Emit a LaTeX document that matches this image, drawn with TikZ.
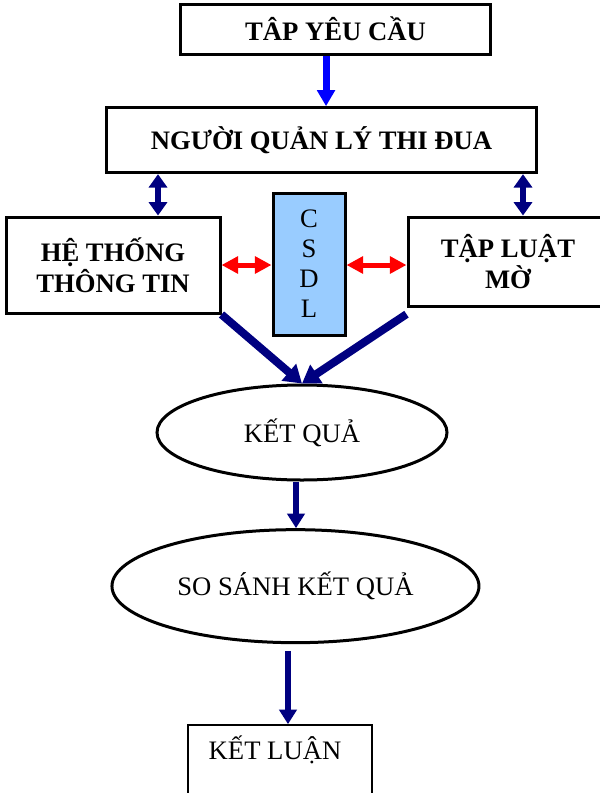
\documentclass[tikz,border=0pt]{standalone}
\usepackage{fontspec}
\setmainfont{Liberation Serif}
\usetikzlibrary{arrows.meta, positioning, shapes.geometric}

\definecolor{navy}{RGB}{0,0,128}
\definecolor{dbblue}{RGB}{153,204,255}

\begin{document}
\begin{tikzpicture}[x=0.75pt, y=-0.75pt,
	every node/.style={font=\fontsize{20}{23}\selectfont},
	bold/.style={font=\fontsize{20}{23}\selectfont\bfseries},
	box/.style={draw, rectangle, line width=2.25pt, align=center, inner sep=0pt},
	oval/.style={draw, ellipse, line width=2.25pt, inner sep=0pt},
	bluearr/.style={draw=blue, line width=5.25pt, -{Triangle[length=12pt, width=13pt]}},
	dblarr/.style={draw=navy, line width=4.5pt, {Triangle[length=10pt, width=13.5pt]}-{Triangle[length=10pt, width=13.5pt]}},
	redarr/.style={draw=red, line width=3.75pt, {Triangle[length=12.5pt, width=12.5pt]}-{Triangle[length=12.5pt, width=12.5pt]}},
	diagarr/.style={draw=navy, line width=6pt, -{Triangle[length=13pt, width=16pt]}},
	downarr/.style={draw=navy, line width=4.5pt, -{Triangle[length=11pt, width=13pt]}}]

\useasboundingbox (0,0) rectangle (600,793);

% top level
\node [box, bold, minimum width=233pt, minimum height=37.5pt] (req) at (335.5,29) {TÂP YÊU CẦU};
\node [box, bold, minimum width=323pt, minimum height=48.75pt, below=38pt of req, xshift=-10.5pt] (mgr) {NGƯỜI QUẢN LÝ THI ĐUA};

\path [bluearr] ([xshift=-7.1pt]req.south) -- ([xshift=-7.1pt]req.south |- mgr.north);

% middle level
\node [box, bold, minimum width=160.5pt, minimum height=72pt] (info) at (113,265) {HỆ THỐNG\\THÔNG TIN};
\node [box, fill=dbblue, minimum width=54pt, minimum height=106.5pt,
	font=\fontsize{20}{22.5}\selectfont] (db) at (309,264) {C\\S\\D\\L};
\node [box, bold, minimum width=150pt, minimum height=66.75pt] (rules) at (508,261.5) {TẬP LUẬT\\MỜ};

\path [dblarr] ([xshift=33.75pt]info.north) -- ([xshift=33.75pt]info.north |- mgr.south);
\path [dblarr] ([xshift=11.25pt]rules.north) -- ([xshift=11.25pt]rules.north |- mgr.south);
\path [redarr] (info.east) -- (info.east -| db.west);
\path [redarr] (db.east |- info.east) -- (info.east -| rules.west);

% results
\node [oval, minimum width=217.5pt, minimum height=71.25pt] (res) at (302,432.5) {KẾT QUẢ};

\path [diagarr] (info.south east) -- (res.north);
\path [diagarr] ([yshift=-5pt]rules.south west) -- (res.north);

\node [oval, minimum width=275.25pt, minimum height=84.75pt, below=35pt of res, xshift=-4.9pt] (cmp) {SO SÁNH KẾT QUẢ};
\node [box, line width=1.5pt, minimum width=138pt, text height=25.5pt, text depth=36pt,
	below=60pt of cmp, xshift=-11.6pt] (concl) {KẾT LUẬN\hspace{7.5pt}};

\path [downarr] ([xshift=-4.5pt]res.south) -- ([xshift=-4.5pt]res.south |- cmp.north);
\path [downarr] ([xshift=-5.6pt, yshift=-5pt]cmp.south) -- ([xshift=-5.6pt]cmp.south |- concl.north);

\end{tikzpicture}
\end{document}
